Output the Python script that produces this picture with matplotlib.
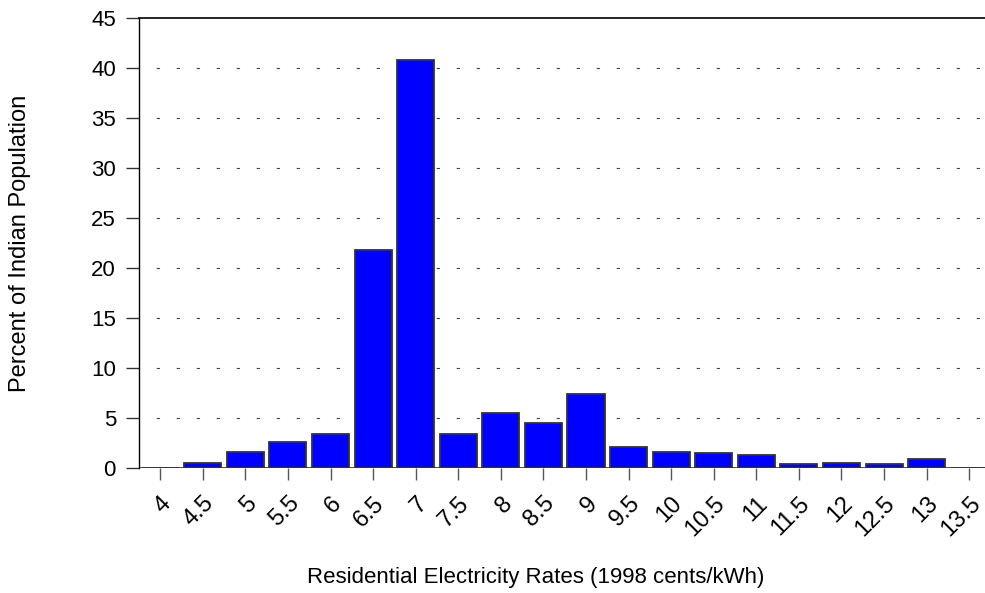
import numpy as np
import matplotlib
matplotlib.use('Agg')
import matplotlib.pyplot as plt

plt.rcParams['font.family'] = ['Liberation Sans', 'DejaVu Sans']

# Electricity rate bins (1998 cents/kWh) and share of population (%)
rates = ['4', '4.5', '5', '5.5', '6', '6.5', '7', '7.5', '8', '8.5',
         '9', '9.5', '10', '10.5', '11', '11.5', '12', '12.5', '13', '13.5']
percent = [0.0, 0.5, 1.6, 2.6, 3.4, 21.8, 40.8, 3.4, 5.5, 4.5,
           7.4, 2.1, 1.6, 1.5, 1.3, 0.4, 0.5, 0.4, 0.85, 0.0]
yticks = [0, 5, 10, 15, 20, 25, 30, 35, 40, 45]

fig = plt.figure(figsize=(9.85, 5.93), dpi=100)
ax = fig.add_axes([0.141, 0.2108, 0.859, 0.7589])

x = np.arange(len(rates))
ax.bar(x, percent, width=0.87, color='#0000ff', edgecolor='#333333',
       linewidth=1.3, zorder=3)
ax.axhline(0, color='#444444', linewidth=1.3, zorder=2)

# dotted horizontal grid lines
for v in yticks[1:-1]:
    ax.axhline(v, color='#444444', linewidth=0.8,
               linestyle=(2.5, (3, 15)), zorder=1)

ax.set_xlim(-0.5, 19.37)
ax.set_ylim(0, 45)
ax.set_yticks(yticks)
ax.set_xticks(x)
ax.set_xticklabels(rates, rotation=45, ha='right', va='top',
                   rotation_mode='anchor')

for s in ['right', 'bottom']:
    ax.spines[s].set_visible(False)
ax.spines['left'].set_linewidth(1.0)
ax.spines['top'].set_linewidth(1.2)

ax.tick_params(axis='y', direction='out', length=9.5, width=1.0,
               color='#333333', labelsize=16, pad=7)
ax.tick_params(axis='x', direction='out', length=8.5, width=1.0,
               color='#555555', labelsize=17, pad=9)

ax.set_ylabel('Percent of Indian Population', fontsize=17)
ax.set_xlabel('Residential Electricity Rates (1998 cents/kWh)', fontsize=16)
ax.xaxis.set_label_coords(0.4685, -0.244)
ax.xaxis.label.set_verticalalignment('center')
ax.yaxis.set_label_coords(-0.140, 0.50)
ax.yaxis.label.set_verticalalignment('center')

fig.savefig('out.png', dpi=100)
